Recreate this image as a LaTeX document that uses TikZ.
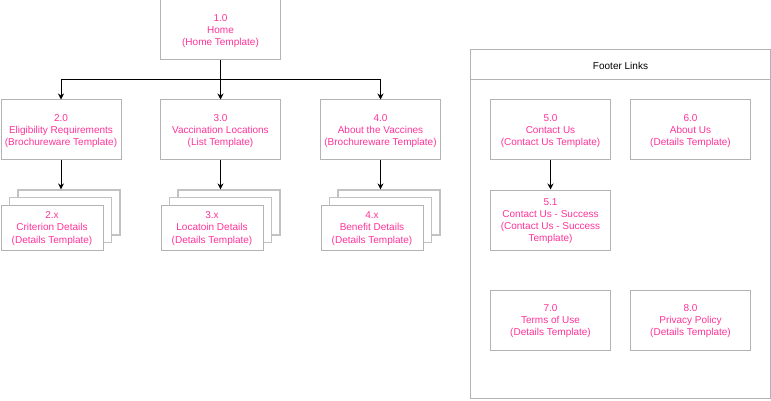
\documentclass[tikz,border=0pt]{standalone}
\usepackage{fontspec}
\setmainfont{Liberation Sans}
\usetikzlibrary{arrows.meta}
\definecolor{pagepink}{HTML}{FF3399}
\definecolor{boxgray}{HTML}{B3B3B3}
\tikzset{
  page/.style={draw=boxgray, line width=1pt, fill=white, text=pagepink,
    align=center, inner sep=0pt, minimum width=120pt, minimum height=60pt,
    font=\fontsize{10}{12.2}\selectfont, text depth=-8pt},
  subpage/.style={page, minimum width=102pt, minimum height=45pt},
  backsheet/.style={draw=boxgray!80, line width=1.2pt, fill=white,
    minimum width=102pt, minimum height=45pt, inner sep=0pt},
  link/.style={draw=black, line width=1pt},
  arrowlink/.style={link, -{Stealth[length=6pt, width=6pt, inset=2pt]}},
}
\begin{document}
\begin{tikzpicture}[x=1pt, y=-1pt]
\useasboundingbox (0,0) rectangle (771,401);

% home page
\node[page] (home) at (220.5,30) {1.0\\Home\\(Home Template)};

% section pages
\node[page] (elig) at (61,130) {2.0\\Eligibility Requirements\\(Brochureware Template)};
\node[page] (vacc) at (220.5,130) {3.0\\Vaccination Locations\\(List Template)};
\node[page] (about) at (380.5,130) {4.0\\About the Vaccines\\(Brochureware Template)};

% stacked detail pages
\foreach \cx/\nm in {52/a, 212/b, 372/c}{
  \node[backsheet] (\nm3) at (\cx+17,212.5) {};
  \node[backsheet] (\nm2) at (\cx+8.5,220) {};
}
\node[subpage] (crit) at (52,227.5) {2.x\\Criterion Details\\(Details Template)};
\node[subpage] (loc) at (212,227.5) {3.x\\Locatoin Details\\(Details Template)};
\node[subpage] (ben) at (372,227.5) {4.x\\Benefit Details\\(Details Template)};

% tree connectors
\coordinate (split) at (220.5,80);
\draw[link] (home.south) -- (split);
\draw[arrowlink] (split) -| (elig.north);
\draw[arrowlink] (split) -- (vacc.north);
\draw[arrowlink] (split) -| (about.north);
\draw[arrowlink] (elig.south) -- (elig.south |- a3.north);
\draw[arrowlink] (vacc.south) -- (vacc.south |- b3.north);
\draw[arrowlink] (about.south) -- (about.south |- c3.north);

% footer links container
\node[draw=boxgray, line width=1pt, minimum width=300pt, minimum height=348pt,
  inner sep=0pt] (footer) at (620.5,224) {};
\draw[draw=boxgray, line width=1pt] (470.5,80) -- (770.5,80);
\node[font=\fontsize{10}{12.2}\selectfont, text=black] (ftitle) at (620.5,66) {Footer Links};

\node[page] (contact) at (550.5,130) {5.0\\Contact Us\\(Contact Us Template)};
\node[page] (aboutus) at (690.5,130) {6.0\\About Us\\(Details Template)};
\node[page] (success) at (550.5,220) {5.1\\Contact Us - Success\\(Contact Us - Success\\Template)};
\node[page] (terms) at (550.5,320) {7.0\\Terms of Use\\(Details Template)};
\node[page] (privacy) at (690.5,320) {8.0\\Privacy Policy\\(Details Template)};
\draw[arrowlink] (contact.south) -- (success.north);
\end{tikzpicture}
\end{document}
